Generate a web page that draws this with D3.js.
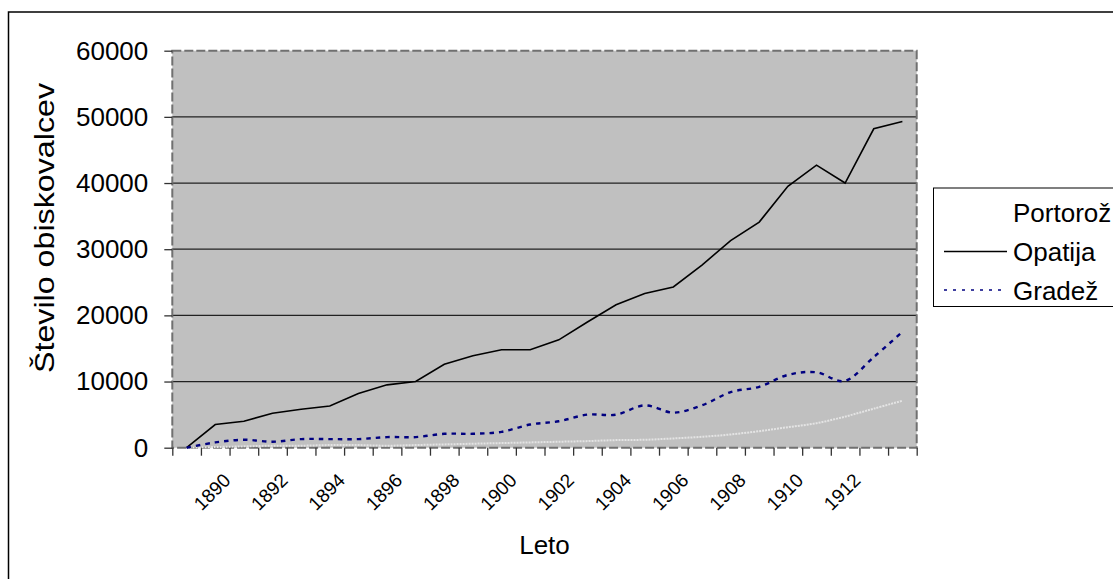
<!DOCTYPE html>
<html>
<head>
<meta charset="utf-8">
<script src="https://cdn.jsdelivr.net/npm/d3@7"></script>
<style>
  html, body { margin: 0; padding: 0; background: #fff; }
  svg { display: block; font-family: "Liberation Sans", Arial, sans-serif; }
</style>
</head>
<body>
<svg id="chart" width="1113" height="579"></svg>
<script>
// ---- data ----
const years = [1889,1890,1891,1892,1893,1894,1895,1896,1897,1898,1899,1900,1901,1902,1903,1904,1905,1906,1907,1908,1909,1910,1911,1912,1913,1914];
const labelYears = [1890,1892,1894,1896,1898,1900,1902,1904,1906,1908,1910,1912];
const yTicks = [0,10000,20000,30000,40000,50000,60000];
const seriesNames = ["Portorož","Opatija","Gradež"];
const portoroz = [0,100,200,300,300,400,400,300,400,500,600,700,800,900,1000,1150,1200,1400,1650,2000,2500,3100,3700,4700,5900,7100];
const opatija = [0,3500,4000,5200,5800,6300,8200,9500,10000,12600,13900,14800,14800,16300,19000,21600,23300,24300,27600,31300,34100,39500,42700,40000,48200,49300];
const gradez = [0,800,1200,900,1300,1300,1300,1600,1600,2100,2100,2400,3500,4000,5000,5000,6400,5300,6400,8400,9200,11000,11400,10100,13700,17500];

// ---- layout ----
const svg = d3.select("#chart");
const L = 172.3, R = 916.7, T = 50.7, B = 447.7;

svg.append("rect").attr("x", 8.5).attr("y", 12).attr("width", 1200).attr("height", 700)
  .attr("fill", "#fff").attr("stroke", "#000").attr("stroke-width", 1.5);

const x = d3.scaleBand().domain(years).range([L, R]).paddingInner(0).paddingOuter(0);
const xc = d => x(d) + x.bandwidth() / 2;
const xb = d3.scaleLinear().domain([0, years.length]).range([L, R]);
const y = d3.scaleLinear().domain([0, 60000]).range([B, T]);

// plot background
svg.append("rect").attr("x", L).attr("y", T).attr("width", R - L).attr("height", B - T)
  .attr("fill", "#c0c0c0");

// gridlines
svg.append("g").selectAll("line").data(yTicks.filter(v => v > 0 && v < 60000)).join("line")
  .attr("x1", L).attr("x2", R).attr("y1", d => y(d)).attr("y2", d => y(d))
  .attr("stroke", "#222").attr("stroke-width", 1.3);

// plot border (dashed)
svg.append("rect").attr("x", L).attr("y", T).attr("width", R - L).attr("height", B - T)
  .attr("fill", "none").attr("stroke", "#707070").attr("stroke-width", 2)
  .attr("stroke-dasharray", "9,3");

// y axis
const yAxis = svg.append("g").attr("transform", `translate(${L},0)`)
  .call(d3.axisLeft(y).tickValues(yTicks).tickSize(8).tickPadding(16).tickFormat(d3.format("d")));
yAxis.select(".domain").remove();
yAxis.selectAll(".tick line").attr("stroke", "#333").attr("stroke-width", 1.3);
yAxis.selectAll(".tick text").attr("font-size", 26).attr("fill", "#000")
  .attr("font-family", "'Liberation Sans', Arial, sans-serif");

// x axis ticks at category boundaries
const xAxis = svg.append("g").attr("transform", `translate(0,${B})`)
  .call(d3.axisBottom(xb).tickValues(d3.range(years.length + 1)).tickSize(8).tickFormat(""));
xAxis.select(".domain").remove();
xAxis.selectAll(".tick line").attr("stroke", "#333").attr("stroke-width", 1.3);

// x labels rotated
svg.append("g").selectAll("text").data(labelYears).join("text")
  .attr("transform", d => `translate(${xc(d) + 16.5},${481.5}) rotate(-45)`)
  .attr("text-anchor", "end").attr("font-size", 19).attr("fill", "#000")
  .text(d => d);

// lines
const mk = (vals, curve) => d3.line().x((v, i) => xc(years[i])).y(v => y(v)).curve(curve)(vals);
svg.append("path").attr("d", mk(portoroz, d3.curveCardinal.tension(0)))
  .attr("fill", "none").attr("stroke", "#e4e4e4").attr("stroke-width", 2).attr("stroke-dasharray", "2,1");
svg.append("path").attr("d", mk(opatija, d3.curveLinear))
  .attr("fill", "none").attr("stroke", "#000").attr("stroke-width", 1.6);
svg.append("path").attr("d", mk(gradez, d3.curveCardinal.tension(0)))
  .attr("fill", "none").attr("stroke", "#000080").attr("stroke-width", 2.4).attr("stroke-dasharray", "4.5,5");

// axis titles
svg.append("text").attr("x", 544.5).attr("y", 553.5).attr("text-anchor", "middle")
  .attr("font-size", 26).attr("fill", "#000").text("Leto");
svg.append("text").attr("transform", "translate(53.5,228) rotate(-90)").attr("text-anchor", "middle")
  .attr("font-size", 28).attr("textLength", 290).attr("lengthAdjust", "spacingAndGlyphs")
  .attr("fill", "#000").text("Število obiskovalcev");

// legend
const lg = svg.append("g");
lg.append("rect").attr("x", 933.5).attr("y", 188).attr("width", 250).attr("height", 118.5)
  .attr("fill", "#fff").attr("stroke", "#000").attr("stroke-width", 1);
const legendStyles = [
  {stroke: "#ffffff", width: 2, dash: "2,1"},
  {stroke: "#000", width: 1.5, dash: null},
  {stroke: "#000080", width: 1.6, dash: "3,6"}
];
const rowY = [212, 251.5, 290];
seriesNames.forEach((name, i) => {
  lg.append("line").attr("x1", 944).attr("x2", 1007).attr("y1", rowY[i]).attr("y2", rowY[i])
    .attr("stroke", legendStyles[i].stroke).attr("stroke-width", legendStyles[i].width)
    .attr("stroke-dasharray", legendStyles[i].dash);
  lg.append("text").attr("x", 1013).attr("y", rowY[i] + 9.5).attr("font-size", 26)
    .attr("fill", "#000").text(name);
});
</script>
</body>
</html>
